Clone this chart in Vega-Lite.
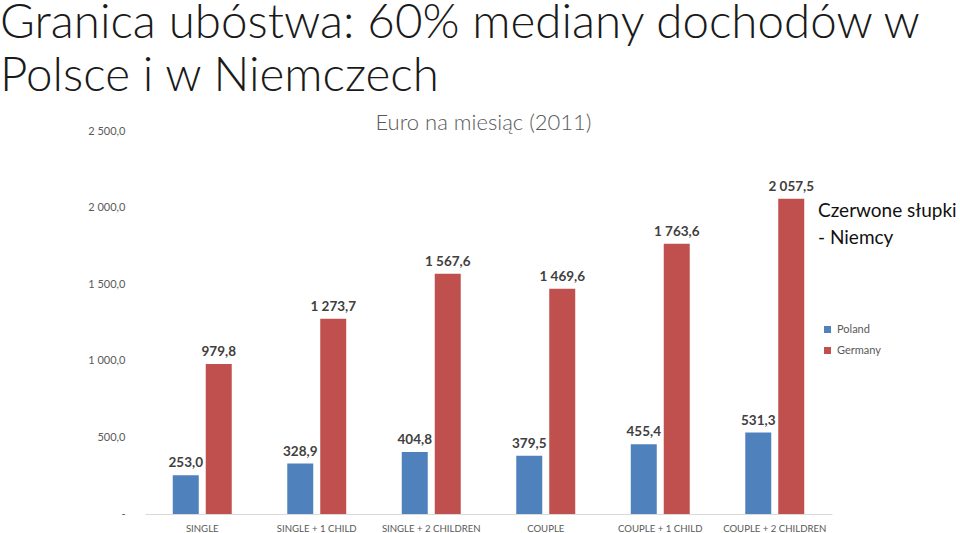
{
  "$schema": "https://vega.github.io/schema/vega-lite/v6.json",
  "width": 687,
  "height": 383,
  "autosize": {"type": "none"},
  "padding": {"left": 145, "top": 131, "right": 128, "bottom": 19},
  "background": "white",
  "config": {
    "locale": {"number": {"decimal": ",", "thousands": "\u00a0", "grouping": [3], "currency": ["", " zł"]}},
    "view": {"stroke": null},
    "font": "Lato"
  },
  "title": {
    "text": ["Granica ubóstwa: 60% mediany dochodów w", "Polsce i w Niemczech"],
    "anchor": "start",
    "frame": "group",
    "dx": -145,
    "fontSize": 47.5,
    "fontWeight": 300,
    "font": "Lato",
    "color": "#1a1a1a",
    "lineHeight": 53,
    "offset": 11
  },
  "data": {
    "values": [
      {"category": "SINGLE", "country": "Poland", "value": 253.0},
      {"category": "SINGLE", "country": "Germany", "value": 979.8},
      {"category": "SINGLE + 1 CHILD", "country": "Poland", "value": 328.9},
      {"category": "SINGLE + 1 CHILD", "country": "Germany", "value": 1273.7},
      {"category": "SINGLE + 2 CHILDREN", "country": "Poland", "value": 404.8},
      {"category": "SINGLE + 2 CHILDREN", "country": "Germany", "value": 1567.6},
      {"category": "COUPLE", "country": "Poland", "value": 379.5},
      {"category": "COUPLE", "country": "Germany", "value": 1469.6},
      {"category": "COUPLE + 1 CHILD", "country": "Poland", "value": 455.4},
      {"category": "COUPLE + 1 CHILD", "country": "Germany", "value": 1763.6},
      {"category": "COUPLE + 2 CHILDREN", "country": "Poland", "value": 531.3},
      {"category": "COUPLE + 2 CHILDREN", "country": "Germany", "value": 2057.5}
    ]
  },
  "encoding": {
    "x": {
      "field": "category",
      "type": "nominal",
      "sort": null,
      "scale": {"paddingInner": 0.485, "paddingOuter": 0.2425},
      "axis": {
        "title": null,
        "labelAngle": 0,
        "ticks": false,
        "domainColor": "#D9D9D9",
        "domainWidth": 1,
        "labelColor": "#595959",
        "labelFontSize": 9.6,
        "labelPadding": 9
      }
    },
    "xOffset": {
      "field": "country",
      "type": "nominal",
      "sort": ["Poland", "Germany"],
      "scale": {"paddingInner": 0.212, "paddingOuter": 0}
    },
    "y": {
      "field": "value",
      "type": "quantitative",
      "scale": {"domain": [0, 2500], "nice": false},
      "axis": {
        "values": [0, 500, 1000, 1500, 2000, 2500],
        "format": ",.1f",
        "labelExpr": "datum.value == 0 ? '-' : datum.label",
        "grid": false,
        "domain": false,
        "ticks": false,
        "labelColor": "#595959",
        "labelFontSize": 11,
        "labelPadding": 20,
        "title": "Euro na miesiąc (2011)",
        "titleAngle": 0,
        "titleX": 338,
        "titleY": -9,
        "titleAlign": "center",
        "titleBaseline": "middle",
        "titleFontSize": 22,
        "titleFontWeight": 300,
        "titleColor": "#595959"
      }
    }
  },
  "layer": [
    {
      "mark": {"type": "bar"},
      "encoding": {
        "color": {
          "field": "country",
          "type": "nominal",
          "scale": {"domain": ["Poland", "Germany"], "range": ["#4F81BD", "#C0504D"]},
          "legend": {
            "orient": "none",
            "legendX": 673,
            "legendY": 71,
            "title": ["Czerwone słupki", "- Niemcy"],
            "titleFontSize": 19,
            "titleFontWeight": "normal",
            "titleColor": "#111111",
            "titleLineHeight": 27,
            "titlePadding": 76,
            "symbolType": "square",
            "symbolSize": 49,
            "symbolStrokeWidth": 0,
            "labelFontSize": 11,
            "labelColor": "#595959",
            "rowPadding": 9,
            "symbolOffset": 4
          }
        }
      }
    },
    {
      "mark": {"type": "text", "baseline": "alphabetic", "dy": -8, "fontSize": 13.5, "fontWeight": "bold", "color": "#404040"},
      "encoding": {
        "text": {"field": "value", "type": "quantitative", "format": ",.1f"}
      }
    }
  ]
}
